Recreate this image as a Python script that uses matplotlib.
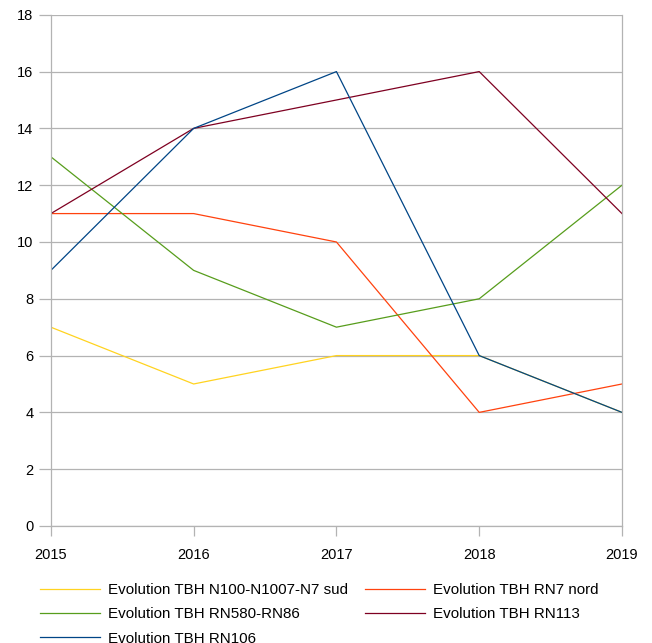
import matplotlib.pyplot as plt

plt.rcParams["font.family"] = ["Liberation Sans", "DejaVu Sans"]
plt.rcParams["font.size"] = 10.5

years = [2015, 2016, 2017, 2018, 2019]
n100_n1007_n7_sud = [7, 5, 6, 6, 4]
rn7_nord = [11, 11, 10, 4, 5]
rn580_rn86 = [13, 9, 7, 8, 12]
rn113 = [11, 14, 15, 16, 11]
rn106 = [9, 14, 16, 6, 4]

series = [
    ("Evolution TBH N100-N1007-N7 sud", n100_n1007_n7_sud, "#ffd320"),
    ("Evolution TBH RN7 nord", rn7_nord, "#ff420e"),
    ("Evolution TBH RN580-RN86", rn580_rn86, "#579d1c"),
    ("Evolution TBH RN113", rn113, "#7e0021"),
    ("Evolution TBH RN106", rn106, "#004586"),
]

fig = plt.figure(figsize=(6.52, 6.43), dpi=100)
ax = fig.add_axes([0.078, 0.182, 0.876, 0.795])

lines = {}
for label, vals, col in series:
    (ln,) = ax.plot(years, vals, color=col, lw=0.9, label=label)
    lines[label] = ln

grey = "#b3b3b3"
ax.set_xlim(2015, 2019)
ax.set_ylim(0, 18)
ax.set_xticks(years)
ax.set_yticks(range(0, 19, 2))
ax.grid(axis="y", color=grey, lw=0.9)
ax.set_axisbelow(True)
for side in ["left", "bottom", "right"]:
    ax.spines[side].set_color(grey)
    ax.spines[side].set_linewidth(0.9)
ax.spines["top"].set_visible(False)
ax.tick_params(axis="x", length=7.5, width=0.9, color=grey, labelcolor="black", pad=8)
ax.tick_params(axis="y", length=8.5, width=0.9, color=grey, labelcolor="black", pad=4)

# legend: two columns, read row by row
order = [0, 2, 4, 1, 3]
handles = [lines[series[i][0]] for i in order]
labels = [series[i][0] for i in order]
fig.legend(
    handles,
    labels,
    ncol=2,
    loc="upper left",
    bbox_to_anchor=(0.0613, 0.0933),
    frameon=False,
    fontsize=10.9,
    handlelength=3.97,
    handletextpad=0.53,
    columnspacing=1.13,
    labelspacing=0.68,
    borderaxespad=0,
    borderpad=0,
)

fig.savefig("out.png", dpi=100)
